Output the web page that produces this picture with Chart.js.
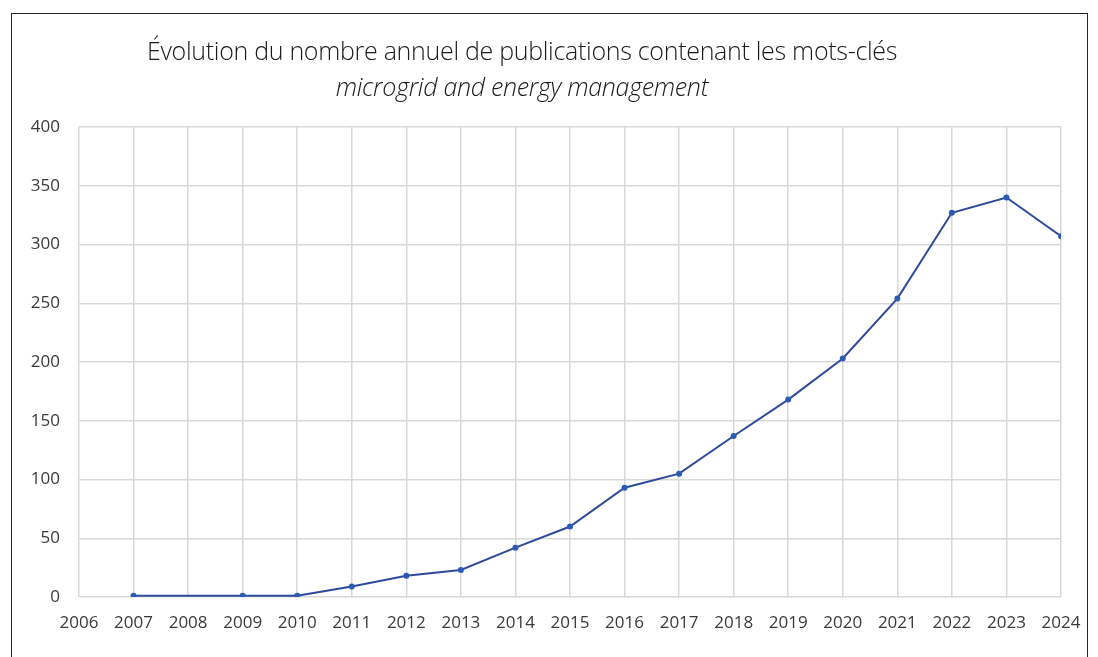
<!DOCTYPE html>
<html lang="fr">
<head>
<meta charset="utf-8">
<script src="https://cdn.jsdelivr.net/npm/chart.js@4.4.1/dist/chart.umd.min.js"></script>
<style>
    html, body {
        margin: 0;
        padding: 0;
        background: #ffffff;
        overflow: hidden;
    }
    #page {
        position: relative;
        width: 1098px;
        height: 657px;
    }
    #cadre {
        position: absolute;
        left: 11px;
        top: 13px;
        width: 1077px;
        height: 660px;
        border: 1.5px solid #262626;
        border-bottom: none;
        box-sizing: border-box;
    }
    .titre {
        position: absolute;
        left: 0;
        width: 1044px;
        text-align: center;
        font-family: "Open Sans", sans-serif;
        font-weight: 300;
        color: #1a1a1a;
        z-index: 2;
        line-height: 32px;
    }
    #titre1 {
        top: 34px;
        font-size: 25px;
        letter-spacing: -0.3px;
    }
    #titre2 {
        top: 70px;
        font-size: 25px;
        font-style: italic;
        letter-spacing: -0.3px;
    }
    #graph {
        position: absolute;
        left: 0;
        top: 0;
    }
</style>
</head>
<body>
<div id="page">
    <div id="cadre"></div>
    <div class="titre" id="titre1">Évolution du nombre annuel de publications contenant les mots-clés</div>
    <div class="titre" id="titre2">microgrid and energy management</div>
    <canvas id="graph" width="1098" height="657"></canvas>
</div>

<script>
// Années (2008 absente de la série) et nombre de publications
const years = [2007, 2009, 2010, 2011, 2012, 2013, 2014, 2015, 2016, 2017, 2018, 2019, 2020, 2021, 2022, 2023, 2024];
const publications = [1, 1, 1, 9, 18, 23, 42, 60, 93, 105, 137, 168, 203, 254, 327, 340, 307];

// Bornes des axes
const xMin = 2006;
const xMax = 2024;
const yTicks = [0, 50, 100, 150, 200, 250, 300, 350, 400];

const gridColor = '#d9d9d9';
const tickColor = '#3a3a3a';
const lineColor = '#2f4a9a';
const pointColor = '#2c5bb5';

const points = years.map((year, i) => ({ x: year, y: publications[i] }));

const ctx = document.getElementById('graph').getContext('2d');
const chart = new Chart(ctx, {
    type: 'line',
    data: {
        datasets: [{
            label: 'Publications',
            data: points,
            borderColor: lineColor,
            borderWidth: 2,
            backgroundColor: pointColor,
            pointBackgroundColor: pointColor,
            pointBorderColor: pointColor,
            pointRadius: 3,
            pointBorderWidth: 0,
            tension: 0,
            fill: false,
        }],
    },
    options: {
        responsive: false,
        animation: false,
        layout: {
            padding: { left: 0, right: 37, top: 127, bottom: 0 },
        },
        plugins: {
            legend: { display: false },
            tooltip: { enabled: false },
        },
        scales: {
            x: {
                type: 'linear',
                min: xMin,
                max: xMax,
                border: { display: false },
                grid: {
                    color: gridColor,
                    lineWidth: 1.5,
                    drawTicks: false,
                },
                ticks: {
                    stepSize: 1,
                    padding: 16,
                    color: tickColor,
                    font: { family: 'Open Sans', size: 17 },
                    maxRotation: 0,
                    autoSkip: false,
                    callback: (value) => String(value),
                },
                afterFit: (scale) => {
                    scale.height = 60;
                },
            },
            y: {
                min: 0,
                max: 400,
                border: { display: false },
                grid: {
                    color: gridColor,
                    lineWidth: 1.5,
                    drawTicks: false,
                },
                afterBuildTicks: (scale) => {
                    scale.ticks = yTicks.map(v => ({ value: v }));
                },
                ticks: {
                    padding: 19,
                    color: tickColor,
                    font: { family: 'Open Sans', size: 17 },
                },
                afterFit: (scale) => {
                    scale.width = 79;
                },
            },
        },
    },
});
</script>
</body>
</html>
